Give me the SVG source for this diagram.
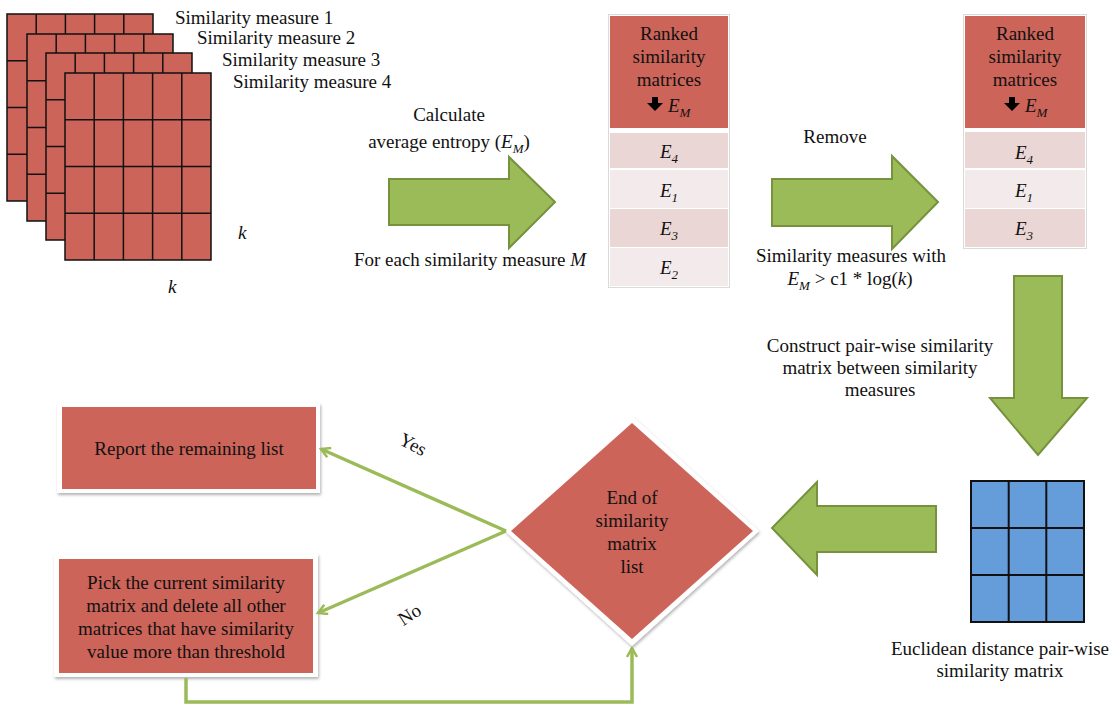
<svg xmlns="http://www.w3.org/2000/svg" width="1110" height="706" viewBox="0 0 1110 706">
<style>
text{font-family:"Liberation Serif","Times New Roman",serif;font-size:19px;fill:#111}
.c{text-anchor:middle}
.i{font-style:italic}
.sub{font-size:13px;font-style:italic}
.blue rect{fill:#659DDB;stroke:#111;stroke-width:2}
.blue line{stroke:#111;stroke-width:2}
.fat{fill:#9BBB59;stroke:#76923C;stroke-width:2}
.red{fill:#CC6459}
.rowd{fill:#EBD6D6}
.rowl{fill:#F3EBEB}
.frame{fill:#fff;stroke:#DADADA;stroke-width:1}
.box{fill:#fff;filter:url(#sh)}
.conn{fill:none;stroke:#9BBB59;stroke-width:3.5}
</style>
<defs>
<filter id="sh" x="-10%" y="-10%" width="120%" height="130%">
<feDropShadow dx="1" dy="2" stdDeviation="1.5" flood-color="#000" flood-opacity="0.3"/>
</filter>
<marker id="ah" viewBox="0 0 12 12" refX="10" refY="6" markerWidth="12" markerHeight="12" markerUnits="userSpaceOnUse" orient="auto">
<path d="M1,1 L10,6 L1,11" fill="none" stroke="#9BBB59" stroke-width="2.5"/>
</marker>
<g id="grid5x4" fill="#CC6459" stroke="#111" stroke-width="1.5">
<rect x="0" y="0" width="146" height="187"/>
<line x1="29.2" y1="0" x2="29.2" y2="187"/>
<line x1="58.4" y1="0" x2="58.4" y2="187"/>
<line x1="87.6" y1="0" x2="87.6" y2="187"/>
<line x1="116.8" y1="0" x2="116.8" y2="187"/>
<line x1="0" y1="46.75" x2="146" y2="46.75"/>
<line x1="0" y1="93.5" x2="146" y2="93.5"/>
<line x1="0" y1="140.25" x2="146" y2="140.25"/>
</g>
</defs>

<g id="matrices">
<use href="#grid5x4" x="7" y="14"/>
<use href="#grid5x4" x="27" y="34"/>
<use href="#grid5x4" x="46" y="53"/>
<use href="#grid5x4" x="65" y="73"/>
<text x="175" y="24">Similarity measure 1</text>
<text x="197" y="44">Similarity measure 2</text>
<text x="222" y="66">Similarity measure 3</text>
<text x="233" y="88">Similarity measure 4</text>
<text x="238" y="239" class="i">k</text>
<text x="168" y="293" class="i">k</text>
</g>

<g id="arrow-entropy">
<polygon class="fat" points="389,179 509,179 509,157 555,202 509,248 509,225 389,225"/>
<text x="449" y="121" class="c">Calculate</text>
<text x="449" y="148" class="c">average entropy (<tspan class="i">E</tspan><tspan class="sub" dy="5">M</tspan><tspan dy="-5">)</tspan></text>
<text x="470" y="266" class="c">For each similarity measure <tspan class="i">M</tspan></text>
</g>

<g id="ranked-1">
<rect class="frame" x="608.5" y="14.5" width="121" height="273"/>
<rect class="red" x="610" y="16" width="118" height="112"/>
<rect class="rowd" x="610" y="133" width="118" height="35"/>
<rect class="rowl" x="610" y="170" width="118" height="38"/>
<rect class="rowd" x="610" y="209" width="118" height="38"/>
<rect class="rowl" x="610" y="248" width="118" height="38"/>
<text x="669" y="40" class="c">Ranked</text>
<text x="669" y="63" class="c">similarity</text>
<text x="669" y="86" class="c">matrices</text>
<polygon points="652,97 658,97 658,103 663,103 655,111 647,103 652,103" fill="#000"/>
<text x="668" y="112"><tspan class="i">E</tspan><tspan class="sub" dy="5">M</tspan></text>
<text x="660" y="158"><tspan class="i">E</tspan><tspan class="sub" dy="5">4</tspan></text>
<text x="660" y="197"><tspan class="i">E</tspan><tspan class="sub" dy="5">1</tspan></text>
<text x="660" y="235"><tspan class="i">E</tspan><tspan class="sub" dy="5">3</tspan></text>
<text x="660" y="274"><tspan class="i">E</tspan><tspan class="sub" dy="5">2</tspan></text>
</g>

<g id="arrow-remove">
<polygon class="fat" points="772,179 892,179 892,156 938,202 892,249 892,226 772,226"/>
<text x="835" y="143" class="c">Remove</text>
<text x="851" y="262" class="c">Similarity measures with</text>
<text x="850" y="285" class="c"><tspan class="i">E</tspan><tspan class="sub" dy="5">M</tspan><tspan dy="-5"> &gt; c1 * log(</tspan><tspan class="i">k</tspan>)</text>
</g>

<g id="ranked-2">
<rect class="frame" x="963.5" y="14.5" width="123" height="234"/>
<rect class="red" x="965" y="16" width="120" height="112"/>
<rect class="rowd" x="965" y="132" width="120" height="36"/>
<rect class="rowl" x="965" y="170" width="120" height="38"/>
<rect class="rowd" x="965" y="209" width="120" height="38"/>
<text x="1025" y="40" class="c">Ranked</text>
<text x="1025" y="63" class="c">similarity</text>
<text x="1025" y="86" class="c">matrices</text>
<polygon points="1009,97 1015,97 1015,103 1020,103 1012,111 1004,103 1009,103" fill="#000"/>
<text x="1025" y="112"><tspan class="i">E</tspan><tspan class="sub" dy="5">M</tspan></text>
<text x="1015" y="159"><tspan class="i">E</tspan><tspan class="sub" dy="5">4</tspan></text>
<text x="1015" y="197"><tspan class="i">E</tspan><tspan class="sub" dy="5">1</tspan></text>
<text x="1015" y="235"><tspan class="i">E</tspan><tspan class="sub" dy="5">3</tspan></text>
</g>

<g id="arrow-construct">
<polygon class="fat" points="1014,276 1062,276 1062,398 1087,398 1038,455 990,398 1014,398"/>
<text x="880" y="352" class="c">Construct pair-wise similarity</text>
<text x="880" y="374" class="c">matrix between similarity</text>
<text x="880" y="396" class="c">measures</text>
</g>

<g id="euclidean" class="blue">
<rect x="971" y="481" width="113" height="141"/>
<line x1="1008.7" y1="481" x2="1008.7" y2="622"/>
<line x1="1046.3" y1="481" x2="1046.3" y2="622"/>
<line x1="971" y1="528" x2="1084" y2="528"/>
<line x1="971" y1="575" x2="1084" y2="575"/>
<text x="1000" y="655" class="c">Euclidean distance pair-wise</text>
<text x="1000" y="677" class="c">similarity matrix</text>
</g>

<g id="arrow-back">
<polygon class="fat" points="936,506 817,506 817,482 772,528 817,575 817,552 936,552"/>
</g>

<g id="decision">
<polygon class="box" points="632,416 759,531 632,646 505,531"/>
<polygon class="red" points="632,423 753,531 632,639 511,531"/>
<text x="632" y="504" class="c">End of</text>
<text x="632" y="527" class="c">similarity</text>
<text x="632" y="550" class="c">matrix</text>
<text x="632" y="573" class="c">list</text>
</g>

<g id="report">
<rect class="box" x="57" y="403" width="263" height="90"/>
<rect class="red" x="62" y="407" width="254" height="82"/>
<text x="189" y="455" class="c">Report the remaining list</text>
</g>

<g id="pick">
<rect class="box" x="54" y="554" width="264" height="123"/>
<rect class="red" x="59" y="559" width="254" height="114"/>
<text x="186" y="589" class="c">Pick the current similarity</text>
<text x="186" y="612" class="c">matrix and delete all other</text>
<text x="186" y="635" class="c">matrices that have similarity</text>
<text x="186" y="658" class="c">value more than threshold</text>
</g>

<g id="connectors">
<line class="conn" x1="506" y1="531" x2="321" y2="449" marker-end="url(#ah)"/>
<line class="conn" x1="506" y1="531" x2="318" y2="613" marker-end="url(#ah)"/>
<polyline class="conn" points="186,678 186,702 632,702 632,648" marker-end="url(#ah)"/>
<text x="0" y="0" transform="translate(410,450) rotate(28)" class="c">Yes</text>
<text x="0" y="0" transform="translate(413,620) rotate(-33)" class="c">No</text>
</g>
</svg>
